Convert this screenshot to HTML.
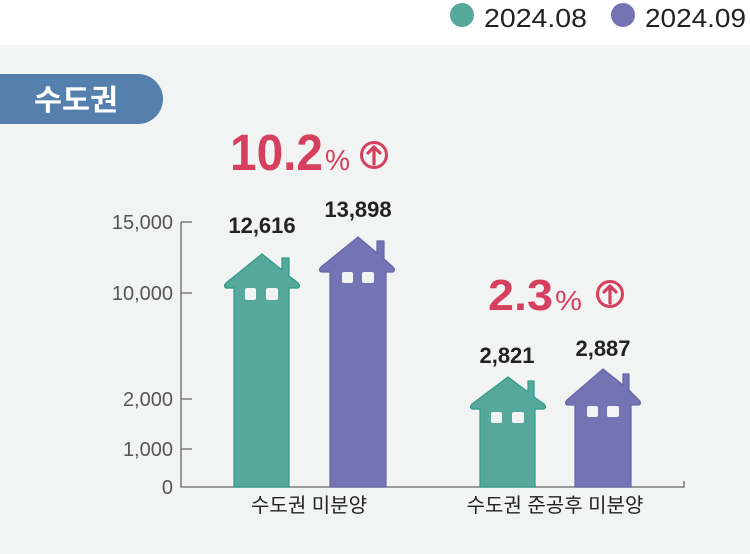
<!DOCTYPE html>
<html><head><meta charset="utf-8"><style>
html,body{margin:0;padding:0;width:750px;height:554px;overflow:hidden;background:#fff}
svg{display:block}
text{font-family:"Liberation Sans","Noto Sans CJK KR",sans-serif}
</style></head><body>
<svg width="750" height="554" viewBox="0 0 750 554" xmlns="http://www.w3.org/2000/svg">
<rect x="0" y="45" width="750" height="509" fill="#f2f3f3"/>
<!-- legend -->
<circle cx="462" cy="15" r="12" fill="#55a89b"/>
<text x="484" y="27" font-size="26" fill="#222" textLength="103" lengthAdjust="spacingAndGlyphs">2024.08</text>
<circle cx="623" cy="15" r="12" fill="#7474b4"/>
<text x="645" y="27" font-size="26" fill="#222" textLength="101" lengthAdjust="spacingAndGlyphs">2024.09</text>
<!-- pill -->
<path d="M0 74 H138 A25 25 0 0 1 138 124 H0 Z" fill="#5580ad"/>
<text x="34" y="110" font-size="29" font-weight="bold" fill="#fff" textLength="84" lengthAdjust="spacingAndGlyphs">수도권</text>
<!-- percentages -->
<text x="230" y="170" font-size="51" font-weight="bold" fill="#d6405f" textLength="93" lengthAdjust="spacingAndGlyphs">10.2</text>
<text x="325" y="170" font-size="29" fill="#d6405f" textLength="25" lengthAdjust="spacingAndGlyphs">%</text>
<circle cx="374" cy="155" r="12.5" fill="none" stroke="#d6405f" stroke-width="3"/>
<path d="M374 164 V148 M368 153 L374 147 L380 153" fill="none" stroke="#d6405f" stroke-width="3.2" stroke-linecap="round" stroke-linejoin="round"/>
<text x="488" y="310" font-size="44" font-weight="bold" fill="#d6405f" textLength="65" lengthAdjust="spacingAndGlyphs">2.3</text>
<text x="555" y="310" font-size="28" fill="#d6405f" textLength="27" lengthAdjust="spacingAndGlyphs">%</text>
<circle cx="610" cy="294" r="12.5" fill="none" stroke="#d6405f" stroke-width="3"/>
<path d="M610 303 V287 M604 292 L610 286 L616 292" fill="none" stroke="#d6405f" stroke-width="3.2" stroke-linecap="round" stroke-linejoin="round"/>
<!-- axes -->
<g stroke="#666" stroke-width="1.3" fill="none">
<path d="M181 222 V487 H684 V481"/>
<path d="M181 222 H192 M181 293 H192 M181 399 H192 M181 449 H192"/>
</g>
<g font-size="20" fill="#555" text-anchor="end">
<text x="173" y="229">15,000</text>
<text x="173" y="300">10,000</text>
<text x="173" y="406">2,000</text>
<text x="173" y="456">1,000</text>
<text x="173" y="494">0</text>
</g>
<!-- houses -->
<g stroke-linejoin="round">
<path d="M234 487 V288 H226 Q223 286 226 283 L262 254 L282 270 V258 H289 V276 L298 283 Q301 286 298 288 H289 V487 Z" fill="#55a89b" stroke="#2e9a86" stroke-width="1.2"/>
<rect x="245" y="288" width="11" height="12" rx="2" fill="#f2f3f3"/><rect x="266" y="288" width="12" height="12" rx="2" fill="#f2f3f3"/>
<path d="M330 487 V272 H321 Q318 270 321 267 L358 237 L377 253 V241 H384 V259 L393 267 Q396 270 393 272 H386 V487 Z" fill="#7474b4" stroke="#6565a8" stroke-width="1.2"/>
<rect x="342" y="272" width="11" height="11" rx="2" fill="#f2f3f3"/><rect x="362" y="272" width="12" height="11" rx="2" fill="#f2f3f3"/>
<path d="M480 487 V409 H472 Q469 407 472 404 L508 377 L528 392 V381 H534 V397 L544 404 Q547 407 544 409 H535 V487 Z" fill="#55a89b" stroke="#2e9a86" stroke-width="1.2"/>
<rect x="491" y="412" width="11" height="11" rx="2" fill="#f2f3f3"/><rect x="512" y="412" width="12" height="11" rx="2" fill="#f2f3f3"/>
<path d="M575 487 V405 H567 Q564 403 567 400 L603 369 L623 385 V374 H629 V390 L639 400 Q642 403 639 405 H631 V487 Z" fill="#7474b4" stroke="#6565a8" stroke-width="1.2"/>
<rect x="587" y="406" width="11" height="11" rx="2" fill="#f2f3f3"/><rect x="607" y="406" width="12" height="11" rx="2" fill="#f2f3f3"/>
</g>
<!-- value labels -->
<g font-size="22" font-weight="bold" fill="#222" text-anchor="middle">
<text x="262" y="233">12,616</text>
<text x="358" y="217">13,898</text>
<text x="507" y="363">2,821</text>
<text x="603" y="356">2,887</text>
</g>
<!-- category labels -->
<g font-size="20" fill="#222" text-anchor="middle">
<text x="309" y="512">수도권 미분양</text>
<text x="555" y="512">수도권 준공후 미분양</text>
</g>
</svg>
</body></html>
